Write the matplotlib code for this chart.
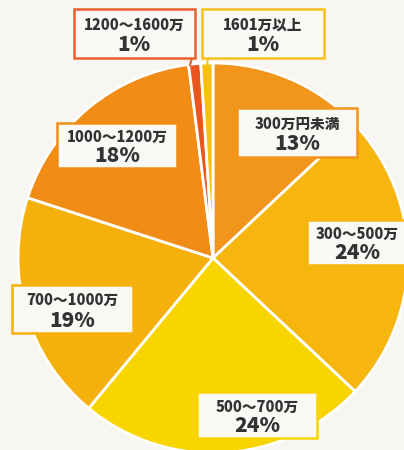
import matplotlib
matplotlib.use('Agg')
import matplotlib.pyplot as plt
from matplotlib.patches import Rectangle

plt.rcParams['font.family'] = ['Noto Sans CJK JP', 'DejaVu Sans']

# data (clockwise from 12 o'clock)
categories = ['300万円未満', '300〜500万', '500〜700万', '700〜1000万',
              '1000〜1200万', '1200〜1600万', '1601万以上']
shares = [13, 24, 24, 19, 18, 1, 1]
colors = ['#F2961B', '#F7B60D', '#F9D500', '#F5B00C',
          '#F18C16', '#E9561E', '#F8C00C']

W, H = 404, 450
fig = plt.figure(figsize=(W / 100, H / 100), dpi=100)
fig.patch.set_facecolor('#f8f6f3')
ax = fig.add_axes([0, 0, 1, 1])

cx, cy, r = 213, H - 258, 195
ax.pie(shares, colors=colors, startangle=90, counterclock=False,
       center=(cx, cy), radius=r,
       wedgeprops=dict(edgecolor='white', linewidth=2))

ax.set_xlim(0, W)
ax.set_ylim(0, H)
ax.set_aspect('equal')
ax.axis('off')

# label boxes: (x0, y0_top, x1, y1_bottom) in image pixels, edge colour
boxes = [
    (237, 108, 357, 157, '#F2961B'),
    (307, 220, 410, 265, '#F7B60D'),
    (197, 392, 317, 438, '#F9D500'),
    (12, 285, 133, 333, '#F5B00C'),
    (57, 123, 177, 168, '#F18C16'),
    (74, 9, 195, 58, '#E9602A'),
    (202, 9, 324, 58, '#F8C21C'),
]
text_x = [297, 357, 257, 72, 117, 134, 263]

# short leader ticks for the two thin slices
ax.plot([192, 190], [H - 58, H - 65], color='#E9602A', lw=1.5)
ax.plot([208, 207], [H - 58, H - 65], color='#F8C21C', lw=1.5)

for cat, val, (x0, y0, x1, y1, ec), tx in zip(categories, shares, boxes, text_x):
    ax.add_patch(Rectangle((x0, H - y1), x1 - x0, y1 - y0,
                           facecolor='#fbf9f6', edgecolor=ec, lw=1.8, zorder=3))
    h = y1 - y0
    ax.text(tx, H - (y0 + h * 0.33), cat, ha='center', va='center',
            fontsize=10.5, fontweight='heavy', color='#333333', zorder=4)
    ax.text(tx, H - (y0 + h * 0.74), f'{val}%', ha='center', va='center',
            fontsize=15, fontweight='heavy', color='#333333', zorder=4)

fig.savefig('out.png', dpi=100, facecolor=fig.get_facecolor())
